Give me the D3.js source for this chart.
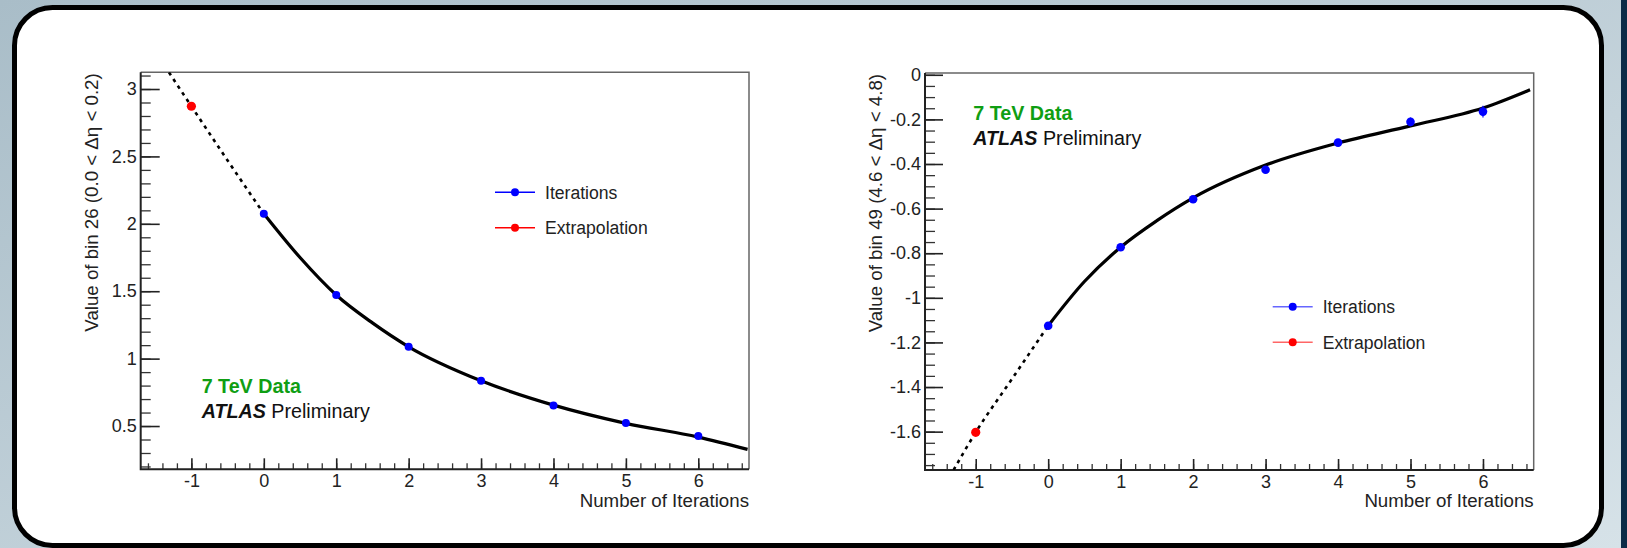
<!DOCTYPE html>
<html>
<head>
<meta charset="utf-8">
<script src="https://cdn.jsdelivr.net/npm/d3@7"></script>
<style>
  html, body { margin: 0; padding: 0; background: #bccbd4; }
  svg { display: block; }
</style>
</head>
<body>
<svg id="chart"></svg>
<script>
// ROOT-style ATLAS plots: unfolding bin value vs. number of iterations

const WIDTH = 1627;
const HEIGHT = 548;
const FONT = '"Liberation Sans", Arial, Helvetica, sans-serif';

// --- data ---
const iterations = [0, 1, 2, 3, 4, 5, 6];
const extrapolationX = [-1];

const bin26Values = [2.075, 1.472, 1.088, 0.836, 0.653, 0.522, 0.426];
const bin26Errors = [0.006, 0.005, 0.005, 0.005, 0.005, 0.006, 0.007];
const bin26Extrapolation = [2.872];
const bin26FitX = [0, 0.5, 1, 1.5, 2, 3, 4, 5, 6, 6.68];
const bin26FitY = [2.075, 1.75, 1.472, 1.265, 1.088, 0.836, 0.655, 0.52, 0.418, 0.327];
const bin26ExtraFitX = [-1.31, -1, -0.5, 0];
const bin26ExtraFitY = [3.124, 2.872, 2.47, 2.075];

const bin49Values = [-1.125, -0.773, -0.558, -0.426, -0.304, -0.211, -0.165];
const bin49Errors = [0.006, 0.006, 0.007, 0.008, 0.01, 0.02, 0.026];
const bin49Extrapolation = [-1.603];
const bin49FitX = [0, 0.5, 1, 1.5, 2, 3, 4, 5, 6, 6.65];
const bin49FitY = [-1.125, -0.927, -0.773, -0.654, -0.552, -0.405, -0.306, -0.229, -0.149, -0.067];
const bin49ExtraFitX = [-1.306, -1, -0.5, 0];
const bin49ExtraFitY = [-1.772, -1.603, -1.364, -1.125];

const xDomain = [-1.7, 6.7];
const xTicks = [-1, 0, 1, 2, 3, 4, 5, 6];
const bin26YDomain = [0.179, 3.124];
const bin26YTicks = [0.5, 1, 1.5, 2, 2.5, 3];
const bin49YDomain = [-1.772, 0.008];
const bin49YTicks = [0, -0.2, -0.4, -0.6, -0.8, -1, -1.2, -1.4, -1.6];

const legendLabels = ['Iterations', 'Extrapolation'];
const legendColors = ['#0000ff', '#ff0000'];

const svg = d3.select('#chart')
  .attr('width', WIDTH)
  .attr('height', HEIGHT)
  .attr('font-family', FONT);

// slide background + rounded white card
const defs = svg.append('defs');
const bg = defs.append('linearGradient')
  .attr('id', 'bg')
  .attr('x1', '0').attr('y1', '0').attr('x2', '1').attr('y2', '1');
bg.append('stop').attr('offset', '0%').attr('stop-color', '#a9bdc8');
bg.append('stop').attr('offset', '60%').attr('stop-color', '#c4d3db');
bg.append('stop').attr('offset', '100%').attr('stop-color', '#d6e2e8');

svg.append('rect')
  .attr('width', WIDTH).attr('height', HEIGHT)
  .attr('fill', 'url(#bg)');

svg.append('rect')
  .attr('x', 1621).attr('y', 0)
  .attr('width', 6).attr('height', HEIGHT)
  .attr('fill', '#0c2b47');

svg.append('rect')
  .attr('x', 14.5).attr('y', 7.5)
  .attr('width', 1587).attr('height', 538)
  .attr('rx', 38).attr('ry', 38)
  .attr('fill', '#fff')
  .attr('stroke', '#000')
  .attr('stroke-width', 5);

function minorTicks(domain, step) {
  const lo = Math.ceil(domain[0] / step - 1e-9);
  const hi = Math.floor(domain[1] / step + 1e-9);
  return d3.range(lo, hi + 1).map(i => +(i * step).toFixed(4));
}

function drawPanel(p) {
  const x = d3.scaleLinear().domain(xDomain).range([p.left, p.right]);
  const y = d3.scaleLinear().domain(p.yDomain).range([p.bottom, p.top]);

  const g = svg.append('g');

  const clipId = 'clip-' + p.id;
  defs.append('clipPath').attr('id', clipId)
    .append('rect')
    .attr('x', p.left).attr('y', p.top)
    .attr('width', p.right - p.left).attr('height', p.bottom - p.top);

  // frame (top/right grey)
  g.append('path')
    .attr('d', `M${p.left},${p.top}H${p.right}V${p.bottom}`)
    .attr('fill', 'none')
    .attr('stroke', '#666')
    .attr('stroke-width', 1.5);

  // y axis: minor + major ticks pointing inward
  const yMinor = d3.axisLeft(y)
    .tickValues(minorTicks(p.yDomain, p.yMinorStep))
    .tickSize(-p.yMinorLen)
    .tickFormat('');
  g.append('g')
    .attr('transform', `translate(${p.left},0)`)
    .call(yMinor)
    .call(a => a.select('.domain').remove())
    .call(a => a.selectAll('line').attr('stroke', '#333').attr('stroke-width', 1.3));

  const yMajor = d3.axisLeft(y)
    .tickValues(p.yTicks)
    .tickSize(-p.yMajorLen)
    .tickPadding(4)
    .tickFormat(d3.format('~g'));
  g.append('g')
    .attr('transform', `translate(${p.left},0)`)
    .call(yMajor)
    .call(a => a.select('.domain').remove())
    .call(a => a.selectAll('line').attr('stroke', '#222').attr('stroke-width', 1.6))
    .call(a => a.selectAll('text')
      .attr('font-family', FONT)
      .attr('font-size', 18)
      .attr('fill', '#222')
      .text(d => d3.format('~g')(d).replace('−', '-')));

  // x axis
  const xMinor = d3.axisBottom(x)
    .tickValues(minorTicks(xDomain, 0.2))
    .tickSize(-6)
    .tickFormat('');
  g.append('g')
    .attr('transform', `translate(0,${p.bottom})`)
    .call(xMinor)
    .call(a => a.select('.domain').remove())
    .call(a => a.selectAll('line').attr('stroke', '#333').attr('stroke-width', 1.3));

  const xMajor = d3.axisBottom(x)
    .tickValues(xTicks)
    .tickSize(-11)
    .tickPadding(5)
    .tickFormat(d3.format('d'));
  g.append('g')
    .attr('transform', `translate(0,${p.bottom})`)
    .call(xMajor)
    .call(a => a.select('.domain').remove())
    .call(a => a.selectAll('line').attr('stroke', '#222').attr('stroke-width', 1.6))
    .call(a => a.selectAll('text')
      .attr('font-family', FONT)
      .attr('font-size', 18)
      .attr('fill', '#222')
      .text(d => d3.format('d')(d).replace('−', '-')));

  // axis lines
  g.append('path')
    .attr('d', `M${p.left},${p.top}V${p.bottom}H${p.right}`)
    .attr('fill', 'none')
    .attr('stroke', '#222')
    .attr('stroke-width', 2);

  // axis titles
  g.append('text')
    .attr('transform', `translate(${p.yTitleX},${p.top + 1}) rotate(-90)`)
    .attr('text-anchor', 'end')
    .attr('font-size', 18.7)
    .attr('fill', '#222')
    .text(p.yTitle);

  g.append('text')
    .attr('x', p.right)
    .attr('y', 507)
    .attr('text-anchor', 'end')
    .attr('font-size', 18.7)
    .attr('fill', '#222')
    .text('Number of Iterations');

  // fit curves
  const line = d3.line()
    .x(d => x(d[0]))
    .y(d => y(d[1]))
    .curve(d3.curveMonotoneX);

  const plot = g.append('g').attr('clip-path', `url(#${clipId})`);

  plot.append('path')
    .datum(d3.zip(p.extraFitX, p.extraFitY))
    .attr('d', line)
    .attr('fill', 'none')
    .attr('stroke', '#000')
    .attr('stroke-width', 2.6)
    .attr('stroke-dasharray', '3.5,4.5');

  plot.append('path')
    .datum(d3.zip(p.fitX, p.fitY))
    .attr('d', line)
    .attr('fill', 'none')
    .attr('stroke', '#000')
    .attr('stroke-width', 3.2);

  // data points with error bars
  const pts = d3.zip(iterations, p.values, p.errors);
  plot.selectAll('line.err')
    .data(pts)
    .enter()
    .append('line')
    .attr('class', 'err')
    .attr('x1', d => x(d[0])).attr('x2', d => x(d[0]))
    .attr('y1', d => y(d[1] - d[2])).attr('y2', d => y(d[1] + d[2]))
    .attr('stroke', legendColors[0])
    .attr('stroke-width', 1.2);

  plot.selectAll('circle.iter')
    .data(pts)
    .enter()
    .append('circle')
    .attr('class', 'iter')
    .attr('cx', d => x(d[0]))
    .attr('cy', d => y(d[1]))
    .attr('r', p.blueR)
    .attr('fill', legendColors[0]);

  plot.selectAll('circle.extra')
    .data(d3.zip(extrapolationX, p.extrapolation))
    .enter()
    .append('circle')
    .attr('class', 'extra')
    .attr('cx', d => x(d[0]))
    .attr('cy', d => y(d[1]))
    .attr('r', 4.6)
    .attr('fill', legendColors[1]);

  // legend
  const leg = g.append('g');
  legendLabels.forEach((label, i) => {
    const ly = p.legendY[i];
    leg.append('line')
      .attr('x1', p.legendX).attr('x2', p.legendX + 40)
      .attr('y1', ly).attr('y2', ly)
      .attr('stroke', legendColors[i])
      .attr('stroke-opacity', p.legendLineOpacity)
      .attr('stroke-width', 1.5);
    leg.append('circle')
      .attr('cx', p.legendX + 20).attr('cy', ly)
      .attr('r', 4)
      .attr('fill', legendColors[i]);
    leg.append('text')
      .attr('x', p.legendX + 50)
      .attr('y', ly + 6.3)
      .attr('font-size', 17.6)
      .attr('fill', '#222')
      .text(label);
  });

  // labels
  g.append('text')
    .attr('x', p.labelX)
    .attr('y', p.labelY)
    .attr('font-size', 19.7)
    .attr('font-weight', 'bold')
    .attr('fill', '#0f9e13')
    .text('7 TeV Data');

  const atlas = g.append('text')
    .attr('x', p.labelX)
    .attr('y', p.labelY + 25)
    .attr('font-size', 19.7)
    .attr('fill', '#111');
  atlas.append('tspan')
    .attr('font-weight', 'bold')
    .attr('font-style', 'italic')
    .text('ATLAS');
  atlas.append('tspan').text(' Preliminary');
}

drawPanel({
  id: 'bin26',
  left: 140.7, right: 749, top: 72.3, bottom: 469.3,
  yDomain: bin26YDomain, yTicks: bin26YTicks, yMinorStep: 0.1,
  yMajorLen: 19, yMinorLen: 10,
  yTitle: 'Value of bin 26 (0.0 < Δη < 0.2)', yTitleX: 97.5,
  values: bin26Values, errors: bin26Errors, extrapolation: bin26Extrapolation,
  fitX: bin26FitX, fitY: bin26FitY, extraFitX: bin26ExtraFitX, extraFitY: bin26ExtraFitY,
  blueR: 4,
  legendX: 495, legendY: [192.3, 227.7], legendLineOpacity: 1,
  labelX: 201.7, labelY: 392.5
});

drawPanel({
  id: 'bin49',
  left: 925, right: 1533.7, top: 73, bottom: 470,
  yDomain: bin49YDomain, yTicks: bin49YTicks, yMinorStep: 0.05,
  yMajorLen: 18, yMinorLen: 10,
  yTitle: 'Value of bin 49 (4.6 < Δη < 4.8)', yTitleX: 882,
  values: bin49Values, errors: bin49Errors, extrapolation: bin49Extrapolation,
  fitX: bin49FitX, fitY: bin49FitY, extraFitX: bin49ExtraFitX, extraFitY: bin49ExtraFitY,
  blueR: 4.3,
  legendX: 1272.7, legendY: [306.7, 342.3], legendLineOpacity: 0.6,
  labelX: 973.3, labelY: 120
});
</script>
</body>
</html>
